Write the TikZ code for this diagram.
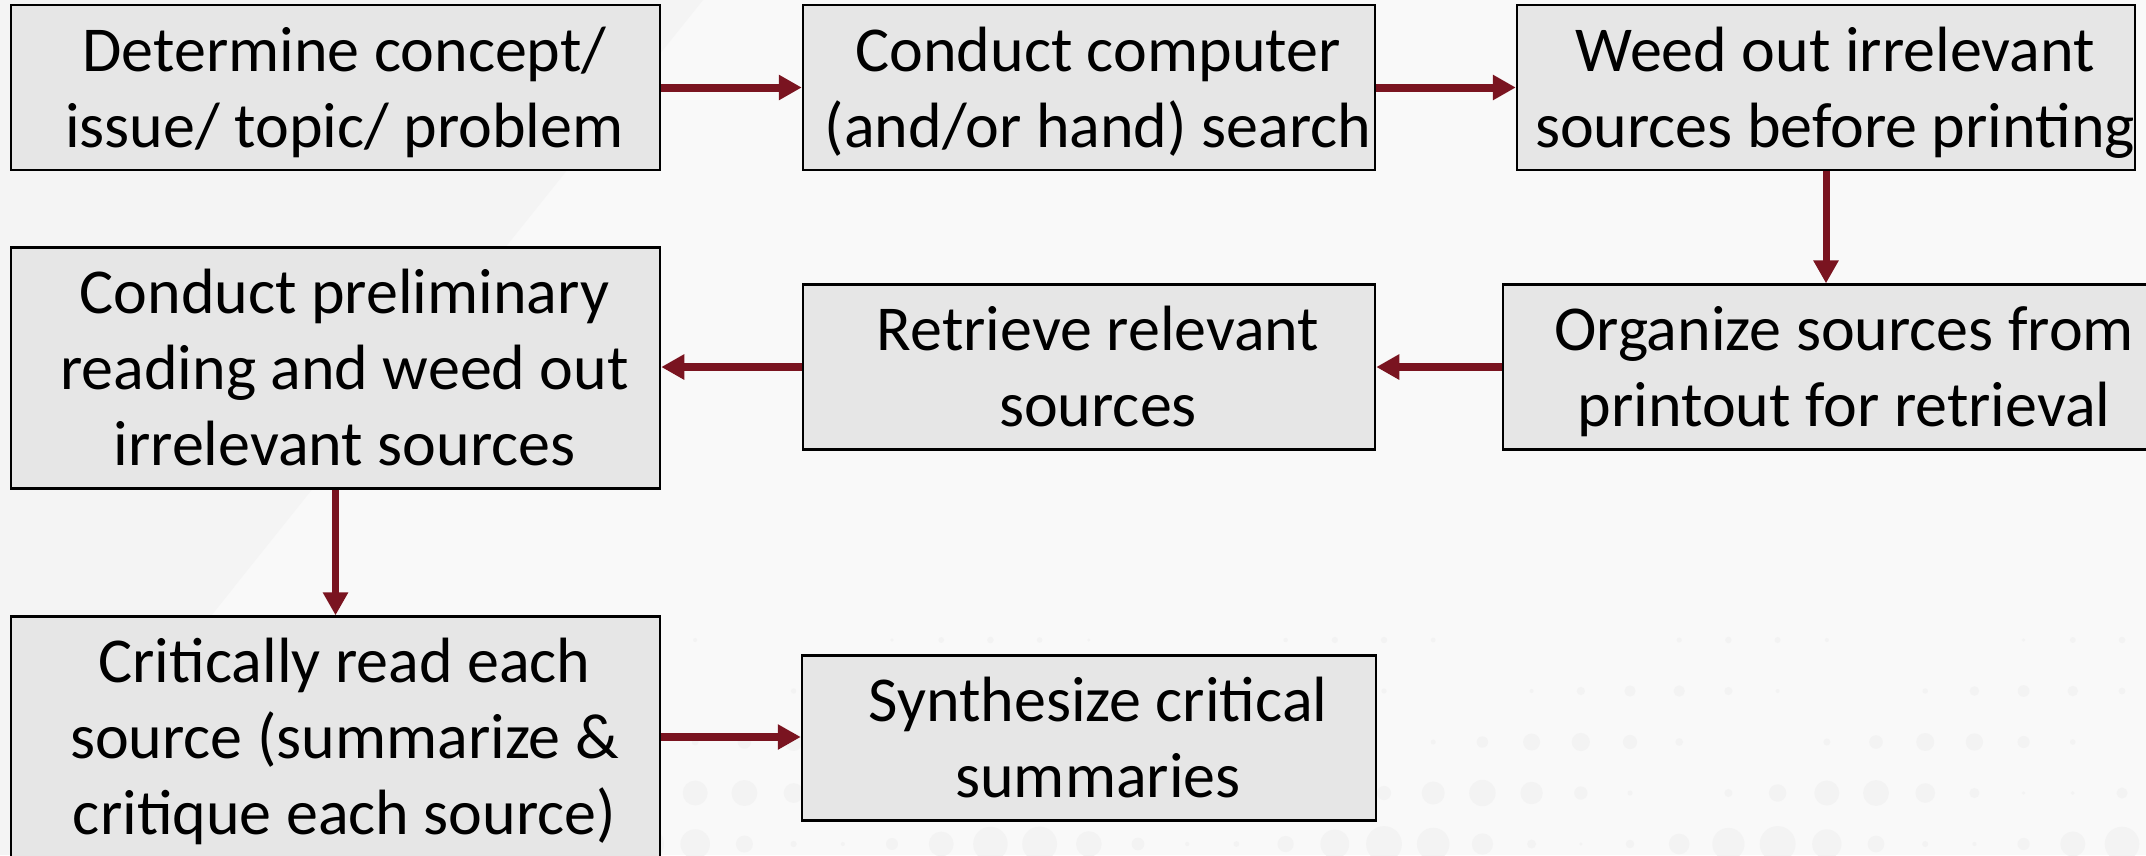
\documentclass[tikz,border=0pt]{standalone}
\usepackage{fontspec}
\setmainfont{Carlito}
\usetikzlibrary{arrows.meta}
\definecolor{bgcol}{HTML}{F9F9F9}
\definecolor{panelcol}{HTML}{F4F4F4}
\definecolor{dotcol}{HTML}{F3F3F3}
\definecolor{boxfill}{HTML}{E6E6E6}
\definecolor{flowred}{HTML}{7A1420}
% centred lines of a step, nudged a little right and down inside its box
\newcommand\steplines[1]{\hspace*{18pt}\begin{tabular}{@{}c@{}}\rule{0pt}{66pt}#1\end{tabular}}
\begin{document}
\begin{tikzpicture}[x=1pt,y=-1pt,
  stepbox/.style={draw=black, line width=2.5pt, fill=boxfill, inner sep=0pt,
    font=\fontsize{64}{76}\selectfont},
  flow/.style={draw=flowred, line width=8pt, -{Triangle[length=23pt,width=24pt]}},
  flowv/.style={flow, line width=7pt}]
\useasboundingbox (0,0) rectangle (2146,855);
\clip (0,0) rectangle (2146,855);

% background, slanted panel and halftone dots
\fill[bgcol] (0,0) rectangle (2146,855);
\fill[panelcol] (0,0) -- (703,0) -- (20,855) -- (0,855) -- cycle;
\foreach \j in {0,...,7}{
  \foreach \i in {0,...,36}{
    \pgfmathsetmacro{\r}{max(0,18*(\j*\j/49)*(0.55+0.45*sin(\i*47+\j*83)))}
    \ifdim\r pt>1.5pt
      \fill[dotcol] (400+49.2*\i,487+51*\j) circle[radius=\r pt];
    \fi
  }
}

% process steps
\node[stepbox, minimum width=649pt, minimum height=161pt] (b1) at (335.5,87.5)
  {\steplines{Determine concept/\\issue/ topic/ problem}};
\node[stepbox, minimum width=572pt, minimum height=161pt] (b2) at (1089,87.5)
  {\steplines{Conduct computer\\(and/or hand) search}};
\node[stepbox, minimum width=616pt, minimum height=161pt] (b3) at (1826,87.5)
  {\steplines{Weed out irrelevant\\sources before printing}};
\node[stepbox, minimum width=649pt, minimum height=240pt] (b4) at (335.5,368)
  {\steplines{Conduct preliminary\\reading and weed out\\irrelevant sources}};
\node[stepbox, minimum width=572pt, minimum height=161pt] (b5) at (1089,367)
  {\steplines{Retrieve relevant\\sources}};
\node[stepbox, minimum width=664pt, minimum height=162pt] (b6) at (1835,367)
  {\steplines{Organize sources from\\printout for retrieval}};
\node[stepbox, minimum width=649pt, minimum height=240pt] (b7) at (335.5,737)
  {\steplines{Critically read each\\source (summarize \&\\critique each source)}};
\node[stepbox, minimum width=574pt, minimum height=162pt] (b8) at (1089,738)
  {\steplines{Synthesize critical\\summaries}};

% connectors
\draw[flow] (b1.east) -- (b2.west);
\draw[flow] (b2.east) -- (b3.west);
\draw[flowv] (b3.south) -- (b3.south |- b6.north);
\draw[flow] (b6.west) -- (b5.east);
\draw[flow] (b5.west) -- (b5.west -| b4.east);
\draw[flowv] (b4.south) -- (b7.north);
\draw[flow] (b7.east) -- (b7.east -| b8.west);
\end{tikzpicture}
\end{document}
